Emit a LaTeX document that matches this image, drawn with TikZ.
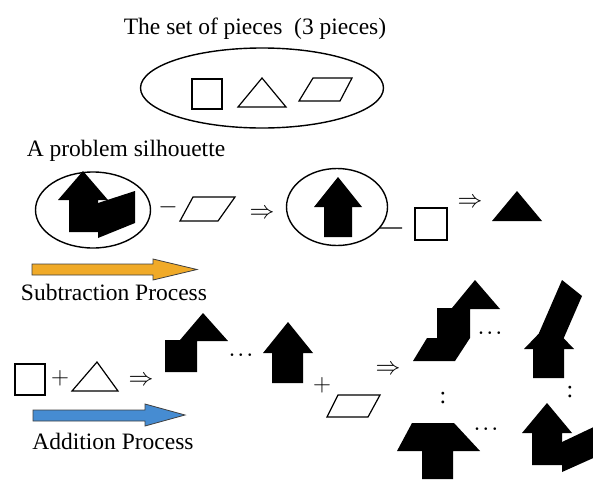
\documentclass[tikz,border=0pt]{standalone}
\usepackage{fontspec}
\setmainfont{Liberation Serif}
\usetikzlibrary{shapes.geometric}
\definecolor{suborange}{RGB}{240,170,40}
\definecolor{addblue}{RGB}{70,140,210}

\begin{document}
\begin{tikzpicture}[x=1pt, y=-1pt, font=\fontsize{23.5}{26}\selectfont,
  piece/.style={draw, line width=1.2pt},
  sil/.style={fill=black},
  ring/.style={ellipse, draw, line width=1.4pt, inner sep=0pt},
  op/.style={inner sep=0pt, font=\fontsize{24}{26}\selectfont},
  dotsop/.style={inner sep=0pt, font=\fontsize{19}{22}\selectfont\boldmath},
  process/.style={draw=black!75, line width=0.8pt}]
  \useasboundingbox (0,0) rectangle (593,479);
  \clip (0,0) rectangle (593,479);

  % the three pieces
  \node (title) at (255,29) {The set of pieces\ \ (3 pieces)};
  \node[ring, minimum width=243pt, minimum height=80pt] (set) at (262,88) {};
  \draw[piece] (192,79) rectangle (222,109);
  \draw[piece] (238,107) -- (262,78) -- (286,107) -- cycle;
  \draw[piece] (299,101) -- (340,101) -- (352,78) -- (313,78) -- cycle;

  % subtraction row
  \node (problem) at (126,151) {A problem silhouette};
  \node[ring, minimum width=115pt, minimum height=76pt] (sil1) at (93,210) {};
  \fill[sil] (83,171) -- (108,200) -- (98,200) -- (98,232) -- (69,232) -- (69,200) -- (58,200) -- cycle;
  \fill[sil] (98,203) -- (135,191) -- (135,223) -- (98,238) -- cycle;
  \node[op] (minus1) at (168,207) {$-$};
  \draw[piece] (180,221) -- (218,221) -- (235,197) -- (193,197) -- cycle;
  \node[op] (imp1) at (262,214) {$\Rightarrow$};
  \node[ring, minimum width=101pt, minimum height=77pt] (sil2) at (337,207) {};
  \fill[sil] (338,177) -- (362,207) -- (352,207) -- (352,237) -- (324,237) -- (324,207) -- (314,207) -- cycle;
  \coordinate (minus2) at (402,228);
  \draw[line width=1.2pt] (sil2.-26) -- (minus2);
  \draw[piece] (415,208) rectangle (447,240);
  \node[op] (imp2) at (470,203) {$\Rightarrow$};
  \fill[sil] (492,221) -- (517,191) -- (542,221) -- cycle;

  % process arrows
  \filldraw[process, fill=suborange] (32,264) -- (153,264) -- (153,259) -- (197,269.5) -- (153,280) -- (153,275) -- (32,275) -- cycle;
  \node (subproc) at (114,292) {Subtraction Process};
  \filldraw[process, fill=addblue] (33,410) -- (145,410) -- (145,404) -- (185,415) -- (145,426) -- (145,421) -- (33,421) -- cycle;
  \node (addproc) at (113,441) {Addition Process};

  % addition row
  \draw[piece] (15,364) rectangle (45,395);
  \node[op] (plus1) at (60,378) {$+$};
  \draw[piece] (72,391) -- (97,362) -- (118,391) -- cycle;
  \node[op] (imp3) at (141,381) {$\Rightarrow$};
  \fill[sil] (165,340) -- (180,340) -- (203,313) -- (228,341) -- (197,341) -- (197,372) -- (165,372) -- cycle;
  \node[dotsop] (dots1) at (241,355) {$\cdots$};
  \fill[sil] (288,322) -- (313,353) -- (303,353) -- (303,383) -- (272,383) -- (272,353) -- (263,353) -- cycle;
  \node[op] (plus2) at (322,385) {$+$};
  \draw[piece] (327,417) -- (368,417) -- (380,395) -- (338,395) -- cycle;
  \node[op] (imp4) at (388,370) {$\Rightarrow$};

  % candidate silhouettes
  \fill[sil] (413,361) -- (427,338) -- (437,338) -- (437,308) -- (452,308) -- (475,280) -- (500,309) -- (470,309) -- (470,338) -- (455,361) -- cycle;
  \node[dotsop] (dots2) at (490,333) {$\cdots$};
  \fill[sil] (549,323) -- (574,349) -- (564,349) -- (564,378) -- (533,378) -- (533,349) -- (524,349) -- cycle;
  \fill[sil] (562,280) -- (582,296) -- (559,349) -- (539,333) -- cycle;
  \node[op] (vdots1) at (443,398) {:};
  \node[op] (vdots2) at (570,392) {:};
  \fill[sil] (412,423) -- (454,423) -- (480,451) -- (453,451) -- (453,479) -- (422,479) -- (422,451) -- (397,451) -- cycle;
  \node[dotsop] (dots3) at (486,429) {$\cdots$};
  \fill[sil] (547,403) -- (572,433) -- (562,433) -- (562,465) -- (532,465) -- (532,433) -- (522,433) -- cycle;
  \fill[sil] (562,442) -- (600,424) -- (600,455) -- (562,472) -- cycle;
\end{tikzpicture}
\end{document}
